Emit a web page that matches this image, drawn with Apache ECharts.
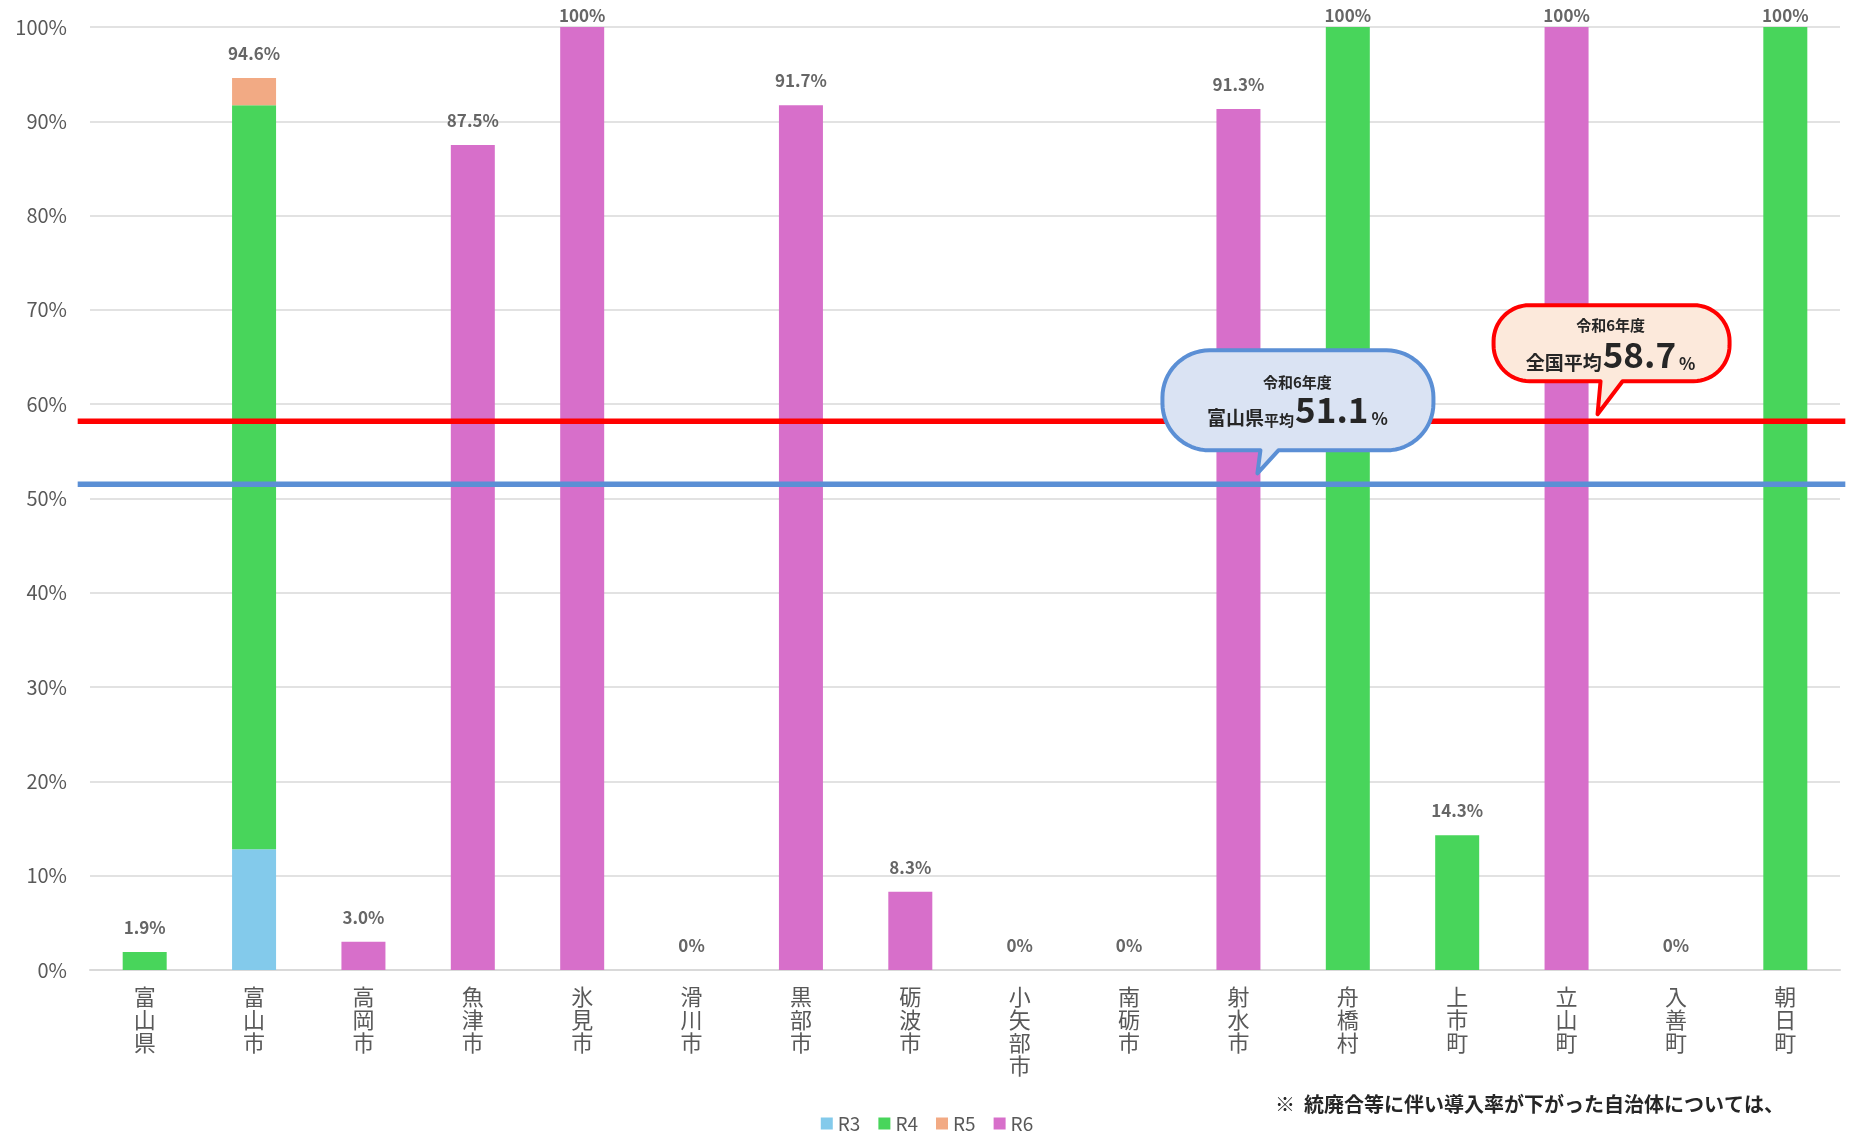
<!DOCTYPE html>
<html><head><meta charset="utf-8">
<script src="https://cdn.jsdelivr.net/npm/echarts@6/dist/echarts.min.js"></script>
<style>html,body{margin:0;padding:0;background:#fff}#c{width:1854px;height:1131px}</style>
</head><body><div id="c"></div>
<script>
const categories = ['富山県','富山市','高岡市','魚津市','氷見市','滑川市','黒部市','砺波市','小矢部市','南砺市','射水市','舟橋村','上市町','立山町','入善町','朝日町'];
const r3 = [0, 12.8, 0, 0, 0, 0, 0, 0, 0, 0, 0, 0, 0, 0, 0, 0];
const r4 = [1.9, 78.9, 0, 0, 0, 0, 0, 0, 0, 0, 0, 100, 14.3, 0, 0, 100];
const r5 = [0, 2.9, 0, 0, 0, 0, 0, 0, 0, 0, 0, 0, 0, 0, 0, 0];
const r6 = [0, 0, 3.0, 87.5, 100, 0, 91.7, 8.3, 0, 0, 91.3, 0, 0, 100, 0, 0];
const totals = [1.9, 94.6, 3.0, 87.5, 100, 0, 91.7, 8.3, 0, 0, 91.3, 100, 14.3, 100, 0, 100];
const seriesNames = ['R3','R4','R5','R6'];
const prefAvgLine = 51.5;      // drawn position of prefecture average line
const nationalAvgLine = 58.2;  // drawn position of national average line
const prefAvgText = '51.1';
const nationalAvgText = '58.7';
const noteText = '※  統廃合等に伴い導入率が下がった自治体については、';

const colors = {R3:'#83CAEB', R4:'#48D55B', R5:'#F2AA84', R6:'#D76FCA'};
const FONT = '"Noto Sans CJK JP", "Noto Sans", sans-serif';

const chart = echarts.init(document.getElementById('c'));
const valueSets = [r3, r4, r5, r6];
const barSeries = seriesNames.map((n, i) => ({
  name: n, type: 'bar', stack: 'total', barWidth: 44,
  itemStyle: {color: colors[n]},
  data: valueSets[i]
}));
function fmt(v){ return (v === 0 || v === 100) ? v + '%' : v.toFixed(1) + '%'; }

chart.setOption({
  animation: false,
  textStyle: {fontFamily: FONT},
  grid: {left: 90, right: 14, top: 27, bottom: 161, containLabel: false},
  legend: {
    data: seriesNames, left: 'center', top: 1109,
    icon: 'rect', itemWidth: 12, itemHeight: 12, itemGap: 18,
    textStyle: {fontSize: 19, color: '#595959', fontFamily: FONT}
  },
  xAxis: {
    type: 'category', data: categories,
    axisLine: {lineStyle: {color: '#D9D9D9', width: 2}},
    axisTick: {show: false},
    axisLabel: {
      interval: 0, fontSize: 22, lineHeight: 23, color: '#595959', margin: 15,
      formatter: v => v.split('').join('\n')
    }
  },
  yAxis: {
    type: 'value', min: 0, max: 100, interval: 10,
    axisLine: {show: false}, axisTick: {show: false},
    axisLabel: {formatter: '{value}%', fontSize: 20, color: '#595959', margin: 23},
    splitLine: {lineStyle: {color: '#D9D9D9', width: 1.5}}
  },
  series: barSeries.concat([{
    name: 'total', type: 'scatter', symbolSize: 0, silent: true,
    data: totals.map(v => ({value: v, label: {distance: v >= 100 ? 3 : 16}})),
    label: {show: true, position: 'top', formatter: p => fmt(p.value),
      fontSize: 17, fontWeight: 'bold', color: '#404040', fontFamily: FONT}
  }])
});

// outline of a rounded callout with a tail, as polygon points (tip at 0,0)
function bubblePoints(x0, y0, w, h, r, bx1, bx2) {
  const pts = [];
  const arc = (cx, cy, a0, a1) => {
    const n = 16;
    for (let k = 0; k <= n; k++) {
      const a = a0 + (a1 - a0) * k / n;
      pts.push([cx + r * Math.cos(a), cy + r * Math.sin(a)]);
    }
  };
  arc(x0 + r, y0 + r, Math.PI, Math.PI * 1.5);
  arc(x0 + w - r, y0 + r, -Math.PI / 2, 0);
  arc(x0 + w - r, y0 + h - r, 0, Math.PI / 2);
  pts.push([bx2, y0 + h]);
  pts.push([0, 0]);
  pts.push([bx1, y0 + h]);
  arc(x0 + r, y0 + h - r, Math.PI / 2, Math.PI);
  return pts;
}

const pPref = chart.convertToPixel({xAxisIndex: 0, yAxisIndex: 0}, ['射水市', prefAvgLine]);
const pNat = chart.convertToPixel({xAxisIndex: 0, yAxisIndex: 0}, ['立山町', nationalAvgLine]);
const gLeft = chart.convertToPixel({xAxisIndex: 0}, categories[0]) - 67;
const gRight = chart.convertToPixel({xAxisIndex: 0}, categories[categories.length-1]) + 60;

const blueTip = [pPref[0] + 19, pPref[1] - 11];
const redTip = [pNat[0] + 31, pNat[1] - 7];

const richCommon = {fontWeight: 'bold', fill: '#262626', fontFamily: FONT, verticalAlign: 'bottom'};

chart.setOption({
  graphic: [
    {type: 'line', z: 50, shape: {x1: gLeft, y1: pNat[1], x2: gRight, y2: pNat[1]},
      style: {stroke: '#FF0000', lineWidth: 5.5}},
    {type: 'line', z: 50, shape: {x1: gLeft, y1: pPref[1], x2: gRight, y2: pPref[1]},
      style: {stroke: '#5B8FD5', lineWidth: 5.5}},
    {type: 'group', x: blueTip[0], y: blueTip[1], z: 100, children: [
      {type: 'polygon', z: 100, shape: {points: bubblePoints(-95, -123, 271, 100, 47, 3, 21)},
        style: {fill: '#DAE3F3', stroke: '#5B8FD5', lineWidth: 4, lineJoin: 'round'}},
      {type: 'text', z: 101, x: 40, y: -91, style: {text: '令和6年度', fontSize: 15, fontWeight: 'bold',
        fill: '#262626', align: 'center', verticalAlign: 'middle', fontFamily: FONT}},
      {type: 'text', z: 101, x: 40, y: -65, style: {
        text: '{a|富山県}{b|平均}{c|' + prefAvgText + '}{d|%}', align: 'center', verticalAlign: 'middle',
        rich: {
          a: Object.assign({fontSize: 19, lineHeight: 25}, richCommon),
          b: Object.assign({fontSize: 15, lineHeight: 23}, richCommon),
          c: Object.assign({fontSize: 35, lineHeight: 38, padding: [0, 3, 0, 1]}, richCommon),
          d: Object.assign({fontSize: 17, lineHeight: 24}, richCommon)
        }}}
    ]},
    {type: 'group', x: redTip[0], y: redTip[1], z: 100, children: [
      {type: 'polygon', z: 100, shape: {points: bubblePoints(-104, -109, 236, 76, 36, 3, 25)},
        style: {fill: '#FCE9DB', stroke: '#FF0000', lineWidth: 4, lineJoin: 'round'}},
      {type: 'text', z: 101, x: 13, y: -89, style: {text: '令和6年度', fontSize: 15, fontWeight: 'bold',
        fill: '#262626', align: 'center', verticalAlign: 'middle', fontFamily: FONT}},
      {type: 'text', z: 101, x: 13, y: -61, style: {
        text: '{a|全国平均}{c|' + nationalAvgText + '}{d|%}', align: 'center', verticalAlign: 'middle',
        rich: {
          a: Object.assign({fontSize: 19, lineHeight: 25}, richCommon),
          c: Object.assign({fontSize: 35, lineHeight: 38, padding: [0, 3, 0, 1]}, richCommon),
          d: Object.assign({fontSize: 17, lineHeight: 24}, richCommon)
        }}}
    ]},
    {type: 'text', z: 100, left: 1275, top: 1094, style: {text: noteText, fontSize: 20, fontWeight: 'bold',
      fill: '#262626', fontFamily: FONT}}
  ]
});
</script>
</body></html>
